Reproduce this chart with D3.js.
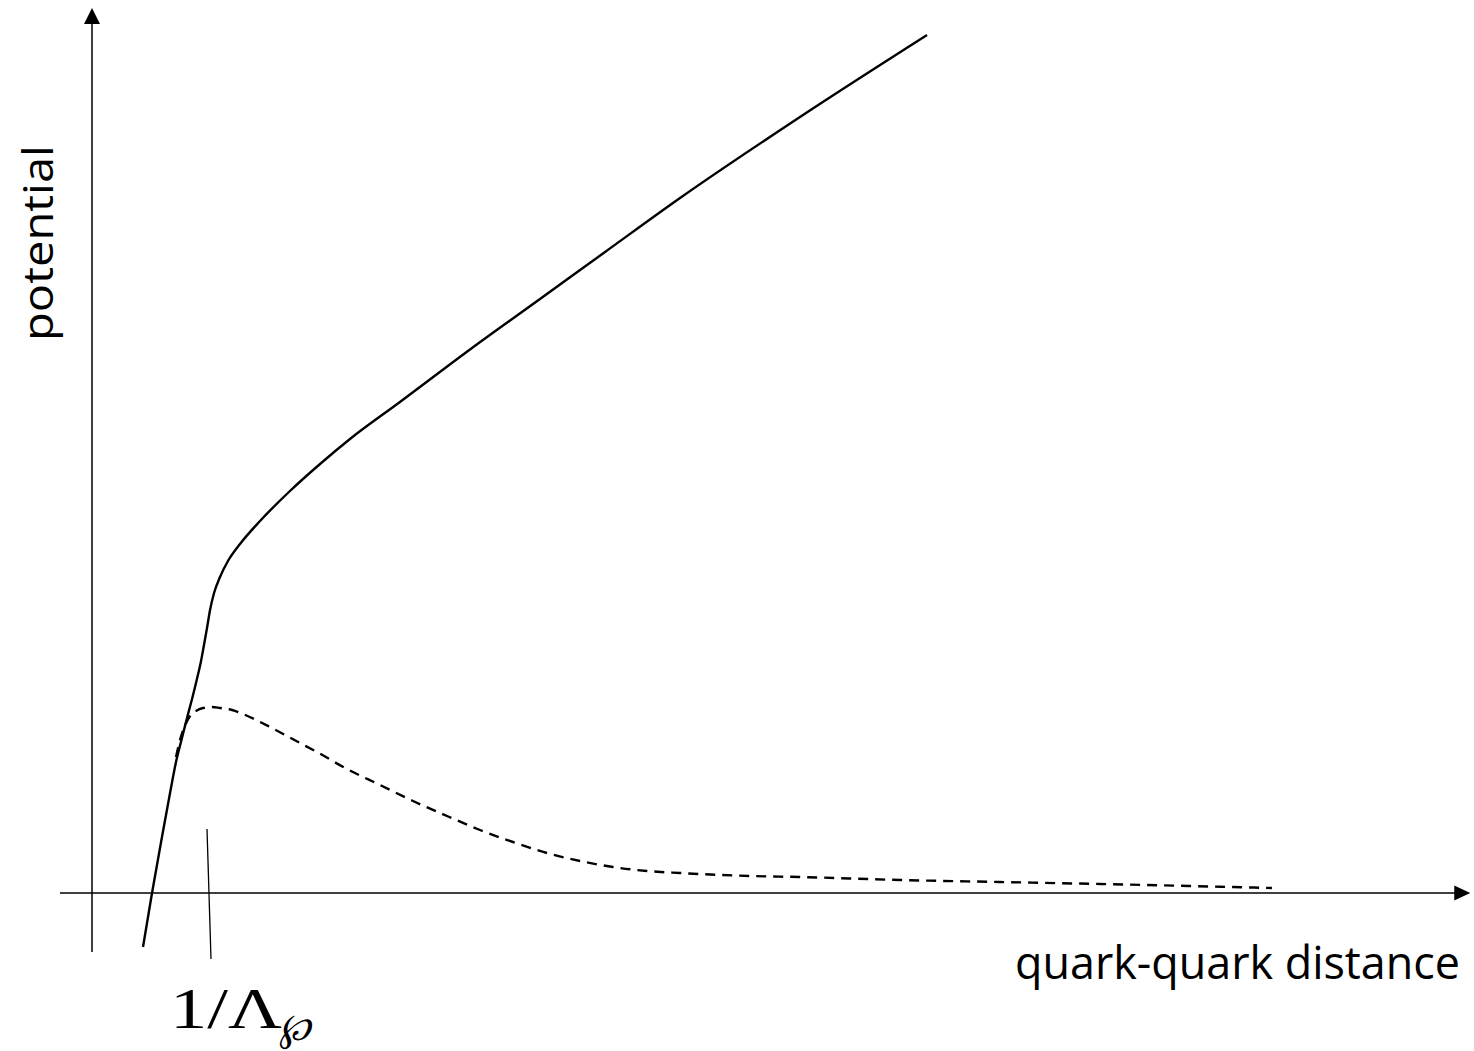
<!DOCTYPE html>
<html>
<head>
<meta charset="utf-8">
<script src="https://cdn.jsdelivr.net/npm/d3@7"></script>
<style>
html,body{margin:0;padding:0;background:#fff;}
svg{display:block;}
</style>
</head>
<body>
<script>
// ---- data (distance r in units of 1/Λ, potential V in arbitrary units) ----
const confinedR = [0.436, 0.513, 0.598, 0.667, 0.718, 0.769, 0.812, 0.855, 0.897, 0.932, 0.957, 0.983, 1.009, 1.043, 1.094, 1.162, 1.265, 1.436, 1.692, 1.949, 2.205, 2.632, 3.248, 3.829, 4.385, 5.026, 6.051, 7.137];
const confinedV = [-0.54, 0.00, 0.56, 1.00, 1.31, 1.55, 1.75, 1.94, 2.14, 2.32, 2.48, 2.65, 2.83, 3.00, 3.16, 3.32, 3.49, 3.72, 4.02, 4.29, 4.54, 4.91, 5.45, 5.94, 6.41, 6.95, 7.76, 8.58];
const screenedR = [0.718, 0.752, 0.786, 0.838, 0.889, 0.949, 1.026, 1.094, 1.197, 1.291, 1.402, 1.521, 1.778, 1.923, 2.179, 2.462, 2.744, 3.034, 3.316, 3.598, 3.889, 4.171, 4.453, 4.744, 5.026, 5.624, 6.051, 6.906, 7.761, 8.615, 9.385, 10.085];
const screenedV = [1.36, 1.53, 1.65, 1.77, 1.82, 1.85, 1.86, 1.85, 1.83, 1.79, 1.73, 1.66, 1.50, 1.41, 1.24, 1.08, 0.92, 0.77, 0.63, 0.51, 0.40, 0.32, 0.26, 0.22, 0.20, 0.17, 0.16, 0.13, 0.11, 0.09, 0.07, 0.05];
const xAxisExtent = [-0.274, 11.78];
const yAxisExtent = [-0.59, 8.85];
const markR = 1;                 // the 1/Λ mark
const markTop = 0.64, markBottom = -0.66;
const xTitle = "quark-quark distance";
const yTitle = "potential";
const markLabel = "1/Λ";
const markSub = "℘";

const W = 1474, H = 1051;
const svg = d3.select("body").append("svg").attr("width", W).attr("height", H);

const x = d3.scaleLinear().domain([0, 1]).range([92, 209]);
const y = d3.scaleLinear().domain([0, 1]).range([893, 793]);

// axes
const ax = svg.append("g").attr("stroke", "#000").attr("stroke-width", 1.5).attr("fill", "none");
ax.append("line").attr("x1", x(xAxisExtent[0])).attr("x2", x(xAxisExtent[1]) - 14)
  .attr("y1", y(0)).attr("y2", y(0));
ax.append("line").attr("x1", x(0)).attr("x2", x(0))
  .attr("y1", y(yAxisExtent[0])).attr("y2", y(yAxisExtent[1]) + 14);
// arrowheads
const xe = x(xAxisExtent[1]), ye = y(0);
svg.append("path").attr("d", `M${xe},${ye} L${xe-16},${ye-7.5} L${xe-16},${ye+7.5} Z`).attr("fill", "#000");
const xt = x(0), yt = y(yAxisExtent[1]);
svg.append("path").attr("d", `M${xt},${yt} L${xt-8},${yt+16} L${xt+8},${yt+16} Z`).attr("fill", "#000");

// mark at 1/Λ
svg.append("line")
  .attr("x1", x(markR) - 2).attr("y1", y(markTop))
  .attr("x2", x(markR) + 2).attr("y2", y(markBottom))
  .attr("stroke", "#000").attr("stroke-width", 1.3);

const line = d3.line().x(d => x(d[0])).y(d => y(d[1])).curve(d3.curveMonotoneX);

svg.append("path")
  .datum(confinedR.map((r, i) => [r, confinedV[i]]))
  .attr("d", line).attr("fill", "none").attr("stroke", "#000").attr("stroke-width", 2.4);

svg.append("path")
  .datum(screenedR.map((r, i) => [r, screenedV[i]]))
  .attr("d", line).attr("fill", "none").attr("stroke", "#000").attr("stroke-width", 2.4)
  .attr("stroke-dasharray", "10,7");

// labels
svg.append("text").attr("x", 1015).attr("y", 979)
  .attr("font-family", "'Open Sans', sans-serif").attr("font-size", 45).attr("fill", "#000")
  .attr("textLength", 445).attr("lengthAdjust", "spacingAndGlyphs")
  .text(xTitle);

svg.append("text").attr("transform", "translate(53,145) rotate(-90)").attr("x", -196)
  .attr("font-family", "'Open Sans', sans-serif").attr("font-size", 42).attr("fill", "#000")
  .attr("textLength", 196).attr("lengthAdjust", "spacingAndGlyphs")
  .text(yTitle);

svg.append("text").attr("x", 170).attr("y", 1028)
  .attr("font-family", "'Liberation Serif', 'DejaVu Serif', serif").attr("font-size", 57).attr("fill", "#000")
  .attr("textLength", 112).attr("lengthAdjust", "spacingAndGlyphs")
  .text(markLabel);
svg.append("text").attr("x", 279).attr("y", 1040)
  .attr("font-family", "'DejaVu Serif', serif").attr("font-size", 38).attr("font-style", "italic").attr("fill", "#000")
  .text(markSub);
</script>
</body>
</html>
